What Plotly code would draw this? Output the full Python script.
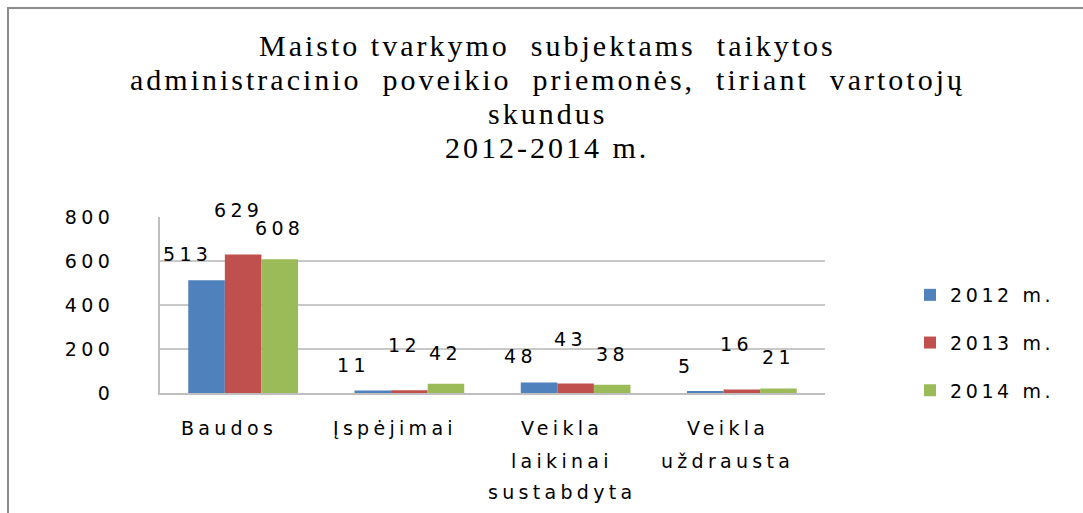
import plotly.graph_objects as go

categories = ["Baudos", "Įspėjimai", "Veikla laikinai sustabdyta", "Veikla uždrausta"]
category_lines = [["Baudos"], ["Įspėjimai"], ["Veikla", "laikinai", "sustabdyta"], ["Veikla", "uždrausta"]]
series_names = ["2012 m.", "2013 m.", "2014 m."]
values_2012 = [513, 11, 48, 5]
values_2013 = [629, 12, 43, 16]
values_2014 = [608, 42, 38, 21]
y_ticks = [0, 200, 400, 600, 800]
colors = ["#4F81BD", "#C0504D", "#9BBB59"]
title_lines = ["Maisto tvarkymo  subjektams  taikytos",
               "administracinio  poveikio  priemonės,  tiriant  vartotojų",
               "skundus",
               "2012-2014 m."]

SANS = "DejaVu Sans"
SERIF = "Liberation Serif"


def wide(s, ls=4.3):
    return f'<span style="letter-spacing:{ls}px">{s}</span>'


# layout geometry (pixels)
W, H = 1083, 513
L, R, T, B = 160, 258, 217, 120
pw, ph = W - L - R, H - T - B


def px_x(x):
    return (x - L) / pw


def px_y(y):
    return (H - B - y) / ph


fig = go.Figure()
all_values = [values_2012, values_2013, values_2014]
for name, vals, col in zip(series_names, all_values, colors):
    fig.add_trace(go.Bar(
        x=categories, y=vals, name=wide(name, 3.6),
        marker=dict(color=col, line=dict(width=0)),
        legendgroup=name, hoverinfo="x+y",
    ))

annotations = []
# data labels (offsets mimic the 3D label placement of the original)
label_offsets = [(-19, 26), (-5, 45), (0, 31)]
bar_px = pw / 4 * (1 - 0.34) / 3
for i, vals in enumerate(all_values):
    dx, dy = label_offsets[i]
    for cat, v in zip(categories, vals):
        annotations.append(dict(
            x=cat, y=v, xref="x", yref="y", text=wide(str(v)), showarrow=False,
            xshift=(i - 1) * bar_px + dx, yshift=dy, xanchor="center", yanchor="middle",
            font=dict(family=SANS, size=19, color="#000000")))

# title lines
title_y = [45, 79, 113, 147]
for line, yy in zip(title_lines, title_y):
    annotations.append(dict(
        x=px_x(547), y=px_y(yy), xref="paper", yref="paper", text=wide(line, 3),
        showarrow=False, xanchor="center", yanchor="middle",
        font=dict(family=SERIF, size=30, color="#000000")))

# category labels
line_y = [428, 461, 492]
for cat, lines in zip(categories, category_lines):
    for j, ln in enumerate(lines):
        annotations.append(dict(
            x=cat, xref="x", y=px_y(line_y[j]), yref="paper", text=wide(ln, 4.3),
            showarrow=False, xanchor="center", yanchor="middle", xshift=-14,
            font=dict(family=SANS, size=19, color="#000000")))

fig.update_layout(
    width=W, height=H,
    paper_bgcolor="white", plot_bgcolor="white",
    margin=dict(l=L, r=R, t=T, b=B),
    barmode="group", bargap=0.34, bargroupgap=0.0,
    showlegend=True,
    legend=dict(x=px_x(910), y=px_y(343), xanchor="left", yanchor="middle",
                font=dict(family=SANS, size=19, color="#000000"),
                tracegroupgap=20, itemsizing="constant"),
    font=dict(family=SANS, size=19, color="#000000"),
    yaxis=dict(range=[0, 800], tickvals=y_ticks, ticktext=[wide(str(v), 4.5) for v in y_ticks],
               showgrid=True, gridcolor="#C8C8C8", gridwidth=1.5,
               showline=True, linecolor="#BFBFBF", linewidth=1.5, zeroline=False,
               ticks="", tickfont=dict(family=SANS, size=19), ticklabelstandoff=40),
    xaxis=dict(showline=True, linecolor="#BFBFBF", linewidth=1.5, ticks="",
               showticklabels=False),
    annotations=annotations,
)
fig.add_shape(type="rect", xref="paper", yref="paper",
              x0=px_x(8), x1=px_x(1095), y0=px_y(525), y1=px_y(8),
              line=dict(color="#8C8C8C", width=2), layer="below")

fig.write_html("out.html", config={"displayModeBar": False},
               post_script="document.body.style.margin='0';")
